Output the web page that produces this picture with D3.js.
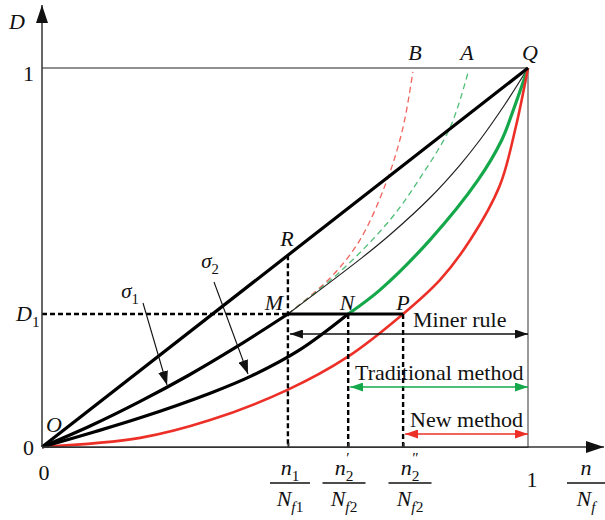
<!DOCTYPE html>
<html>
<head>
<meta charset="utf-8">
<script src="https://cdn.jsdelivr.net/npm/d3@7"></script>
<style>
  body { margin: 0; background: #fff; }
  text { font-family: "Liberation Serif", "Times New Roman", serif; fill: #111; }
</style>
</head>
<body>
<div id="chart"></div>
<script>
// damage D against cycle ratio n/Nf
const xMarks = [0.506, 0.630, 0.743];   // n1/Nf1, n2'/Nf2, n2''/Nf2
const D1 = 0.351;
const lineOQ = [[0, 0], [1, 1]];
const sigma1Solid = [[0, 0], [0.1, 0.056], [0.2, 0.119], [0.3, 0.188], [0.4, 0.264], [0.506, 0.351]];
const sigma1Thin = [[0.506, 0.351], [0.66, 0.501], [0.716, 0.56], [0.798, 0.657], [0.86, 0.744], [0.901, 0.81], [0.953, 0.905], [1, 1]];
const sigma2Solid = [[0, 0], [0.1, 0.037], [0.202, 0.077], [0.346, 0.142], [0.43, 0.187], [0.531, 0.257], [0.63, 0.351]];
const tradCurve = [[0.63, 0.351], [0.695, 0.414], [0.798, 0.546], [0.897, 0.704], [0.946, 0.81], [0.97, 0.89], [1, 1]];
const newCurve = [[0, 0], [0.202, 0.024], [0.346, 0.071], [0.504, 0.15], [0.628, 0.237], [0.743, 0.351], [0.819, 0.441], [0.881, 0.546], [0.942, 0.69], [0.975, 0.845], [1, 1]];
const dashB = [[0.506, 0.351], [0.593, 0.446], [0.654, 0.546], [0.71, 0.704], [0.743, 0.844], [0.763, 0.99]];
const dashA = [[0.506, 0.351], [0.613, 0.462], [0.716, 0.599], [0.778, 0.71], [0.84, 0.844], [0.877, 0.99]];
const methodNames = ["Miner rule", "Traditional method", "New method"];

const width = 605, height = 520;
const RED = "#ec2f27", GREEN = "#15a84a";

let svg = d3.select("#chart")
    .append("svg")
    .attr("width", width)
    .attr("height", height);

let x = d3.scaleLinear().domain([0, 1]).range([42, 528]);
let y = d3.scaleLinear().domain([0, 1]).range([447, 68]);

let line = d3.line()
    .x(function(d) { return x(d[0]); })
    .y(function(d) { return y(d[1]); })
    .curve(d3.curveCatmullRom.alpha(0.5));

// arrow heads
let defs = svg.append("defs");
function marker(id, color, len, wid) {
    defs.append("marker")
        .attr("id", id)
        .attr("viewBox", `0 0 ${len} ${wid}`)
        .attr("refX", len).attr("refY", wid / 2)
        .attr("markerWidth", len).attr("markerHeight", wid)
        .attr("markerUnits", "userSpaceOnUse")
        .attr("orient", "auto-start-reverse")
        .append("path")
        .attr("d", `M0,0L${len},${wid / 2}L0,${wid}Z`)
        .attr("fill", color);
}
marker("axisArrow", "#111", 18, 12);
marker("arBlack", "#111", 13, 9);
marker("arGreen", GREEN, 13, 9);
marker("arRed", RED, 13, 9);
marker("arSigma", "#111", 14, 10);

// frame lines at D = 1 and n/Nf = 1
svg.append("line")
    .attr("x1", x(0)).attr("x2", x(1)).attr("y1", y(1)).attr("y2", y(1))
    .attr("stroke", "#222").attr("stroke-width", 1.2);
svg.append("line")
    .attr("x1", x(1)).attr("x2", x(1)).attr("y1", y(1)).attr("y2", y(0))
    .attr("stroke", "#555").attr("stroke-width", 1.2);

// curves
svg.append("path").attr("d", line(dashB)).attr("fill", "none")
    .attr("stroke", RED).attr("stroke-opacity", 0.75).attr("stroke-width", 1.3).attr("stroke-dasharray", "6,4");
svg.append("path").attr("d", line(dashA)).attr("fill", "none")
    .attr("stroke", GREEN).attr("stroke-opacity", 0.75).attr("stroke-width", 1.3).attr("stroke-dasharray", "6,4");
svg.append("path").attr("d", line(sigma1Thin)).attr("fill", "none")
    .attr("stroke", "#222").attr("stroke-width", 1.2);
svg.append("path").attr("d", line(tradCurve)).attr("fill", "none")
    .attr("stroke", GREEN).attr("stroke-width", 3.2);
svg.append("path").attr("d", line(newCurve)).attr("fill", "none")
    .attr("stroke", RED).attr("stroke-width", 2.6);
[lineOQ, sigma1Solid, sigma2Solid].forEach(function(c) {
    svg.append("path").attr("d", line(c)).attr("fill", "none")
        .attr("stroke", "#000").attr("stroke-width", 3.2);
});

// guide lines
let guides = svg.append("g").attr("stroke", "#000").attr("stroke-width", 2.4).attr("stroke-dasharray", "5,3");
guides.append("line")
    .attr("x1", x(0)).attr("x2", x(xMarks[0])).attr("y1", y(D1)).attr("y2", y(D1));
guides.append("line")
    .attr("x1", x(xMarks[0])).attr("x2", x(xMarks[0])).attr("y1", y(xMarks[0])).attr("y2", y(0));
guides.append("line")
    .attr("x1", x(xMarks[1])).attr("x2", x(xMarks[1])).attr("y1", y(D1)).attr("y2", y(0));
guides.append("line")
    .attr("x1", x(xMarks[2])).attr("x2", x(xMarks[2])).attr("y1", y(D1)).attr("y2", y(0));
svg.append("line")
    .attr("x1", x(xMarks[0])).attr("x2", x(xMarks[2])).attr("y1", y(D1)).attr("y2", y(D1))
    .attr("stroke", "#000").attr("stroke-width", 3);

// axes
svg.append("g")
    .attr("transform", `translate(0, ${y(0)})`)
    .style("color", "#333")
    .call(d3.axisBottom(x).tickValues(xMarks).tickSizeInner(-4).tickSizeOuter(0).tickFormat(""))
    .selectAll("line").attr("stroke-width", 2);
svg.append("line")
    .attr("x1", x(0)).attr("x2", width - 1).attr("y1", y(0)).attr("y2", y(0))
    .attr("stroke", "#333").attr("stroke-width", 1.5).attr("marker-end", "url(#axisArrow)");
svg.append("line")
    .attr("x1", x(0)).attr("x2", x(0)).attr("y1", y(0)).attr("y2", 5)
    .attr("stroke", "#333").attr("stroke-width", 1.5).attr("marker-end", "url(#axisArrow)");

// method range arrows
let rowY = [334, 387, 434];
let rowColor = ["#111", GREEN, RED];
let rowMarker = ["arBlack", "arGreen", "arRed"];
let labelX = [413, 355, 410];
methodNames.forEach(function(name, i) {
    svg.append("line")
        .attr("x1", x(xMarks[i]) + 2).attr("x2", x(1)).attr("y1", rowY[i]).attr("y2", rowY[i])
        .attr("stroke", rowColor[i]).attr("stroke-width", 1.3)
        .attr("marker-start", `url(#${rowMarker[i]})`)
        .attr("marker-end", `url(#${rowMarker[i]})`);
    svg.append("text")
        .attr("x", labelX[i]).attr("y", rowY[i] - 7)
        .attr("font-size", 22)
        .text(name);
});

// sigma pointer arrows
svg.append("line").attr("x1", 143).attr("y1", 303).attr("x2", 167).attr("y2", 385)
    .attr("stroke", "#111").attr("stroke-width", 1.1).attr("marker-end", "url(#arSigma)");
svg.append("line").attr("x1", 214).attr("y1", 282).attr("x2", 248).attr("y2", 374)
    .attr("stroke", "#111").attr("stroke-width", 1.1).attr("marker-end", "url(#arSigma)");

// rich text helper: italic / subscript / superscript parts
function rich(px, py, parts, anchor, size) {
    size = size || 22;
    let t = svg.append("text")
        .attr("x", px).attr("y", py)
        .attr("text-anchor", anchor || "middle")
        .attr("font-size", size);
    let shift = 0;
    parts.forEach(function(p) {
        let target = p.sub ? 6 : p.sup ? -12 : 0;
        let s = t.append("tspan").text(p.t).attr("dy", target - shift);
        if (p.dx) s.attr("dx", p.dx);
        if (p.i) s.style("font-style", "italic");
        if (p.sub || p.sup) s.attr("font-size", size * 0.7);
        shift = target;
    });
    return t;
}

// axis labels
rich(17, 29, [{t: "D", i: true}]);
rich(34, 81, [{t: "1"}], "end");
rich(16, 321, [{t: "D", i: true}, {t: "1", sub: true}], "start");
rich(34, 455, [{t: "0"}], "end");
rich(44, 480, [{t: "0"}]);
rich(54, 432, [{t: "O", i: true}]);
rich(532, 487, [{t: "1"}]);

// fraction labels under the axis
function frac(cx, num, den, w) {
    rich(cx, 475, num);
    svg.append("line")
        .attr("x1", cx - w / 2).attr("x2", cx + w / 2).attr("y1", 483).attr("y2", 483)
        .attr("stroke", "#111").attr("stroke-width", 1.3);
    rich(cx, 506, den);
}
let Nf = function(k) { return [{t: "N", i: true}, {t: "f", i: true, sub: true}, {t: k, sub: true}]; };
frac(290, [{t: "n", i: true}, {t: "1", sub: true}], Nf("1"), 40);
frac(344, [{t: "n", i: true}, {t: "2", sub: true}, {t: "\u2032", sup: true, dx: -7}], Nf("2"), 43);
frac(410, [{t: "n", i: true}, {t: "2", sub: true}, {t: "\u2033", sup: true, dx: -7}], Nf("2"), 43);
frac(586, [{t: "n", i: true}], [{t: "N", i: true}, {t: "f", i: true, sub: true}], 38);

// point labels
rich(287, 246, [{t: "R", i: true}]);
rich(274, 310, [{t: "M", i: true}]);
rich(347, 310, [{t: "N", i: true}]);
rich(403, 310, [{t: "P", i: true}]);
rich(415, 60, [{t: "B", i: true}]);
rich(467, 60, [{t: "A", i: true}]);
rich(530, 60, [{t: "Q", i: true}]);
rich(130, 298, [{t: "\u03c3", i: true}, {t: "1", sub: true}], "middle", 21);
rich(210, 268, [{t: "\u03c3", i: true}, {t: "2", sub: true}], "middle", 21);
</script>
</body>
</html>
